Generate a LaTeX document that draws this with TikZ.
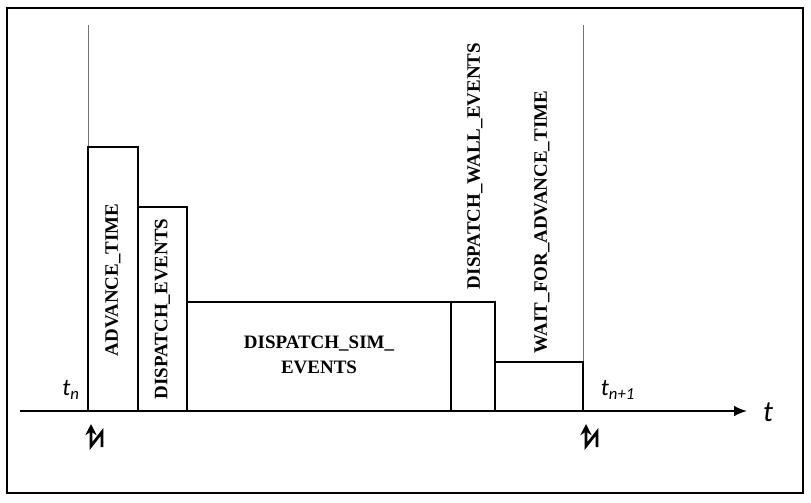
\documentclass[tikz,border=0pt]{standalone}
\usepackage{fontspec}
\setmainfont{Liberation Serif}
\newfontfamily\tfont{Carlito}
\usetikzlibrary{arrows.meta}

\tikzset{
  phase/.style={draw, line width=1.5pt},
  phaselabel/.style={font=\bfseries\fontsize{13.5}{17.5}\selectfont, inner sep=0pt, align=center},
  vlabel/.style={phaselabel, rotate=90},
  tick/.style={draw=black!55, line width=0.7pt},
  timelabel/.style={font=\tfont\itshape\fontsize{17}{20}\selectfont, inner sep=0pt},
  trigger/.style={line width=2pt, line join=miter, -{Stealth[length=2.8mm,width=2.8mm]}}
}

\begin{document}
\begin{tikzpicture}[x=0.25mm, y=-0.25mm]
      \useasboundingbox (0,0) rectangle (811,502);
      \draw[line width=2pt] (7,8) rectangle (803,493);

      % frame boundaries t_n and t_{n+1}
      \coordinate (tn) at (88,411);
      \coordinate (tnn) at (583,411);
      \draw[tick] (88,25) -- (tn);
      \draw[tick] (583,25) -- (tnn);

      % phases
      \draw[phase] (88,411) rectangle (138,147);
      \draw[phase] (138,411) rectangle (187,207);
      \draw[phase] (187,411) rectangle (451,302);
      \draw[phase] (451,411) rectangle (495,302);
      \draw[phase] (495,411) rectangle (583,362);

      \node[vlabel] (advance) at (113,280) {ADVANCE\_TIME};
      \node[vlabel] (dispatch) at (162.5,309) {DISPATCH\_EVENTS};
      \node[phaselabel] (sim) at (319,355) {DISPATCH\_SIM\_\\EVENTS};
      \node[vlabel] (wall) at (475,166) {DISPATCH\_WALL\_EVENTS};
      \node[vlabel] (wait) at (542,222) {WAIT\_FOR\_ADVANCE\_TIME};

      % time axis
      \coordinate (origin) at (20,411);
      \coordinate (tip) at (747,411);
      \draw[line width=1.2pt, -{Latex[length=3.2mm,width=2.6mm]}] (origin) -- (tip);
      \node[timelabel, font=\tfont\itshape\fontsize{21}{24}\selectfont] (t) at (768,412) {t};
      \node[timelabel] (tnlabel) at (71,390) {t\textsubscript{n}};
      \node[timelabel] (tnnlabel) at (618,390) {t\textsubscript{n+1}};

      % triggers
      \foreach \c/\x in {tn/91, tnn/586}
      {
        \draw[trigger] (\x+11,447) -- (\x+11,432) -- (\x,446) -- (\x,424);
      }
    \end{tikzpicture}
\end{document}
